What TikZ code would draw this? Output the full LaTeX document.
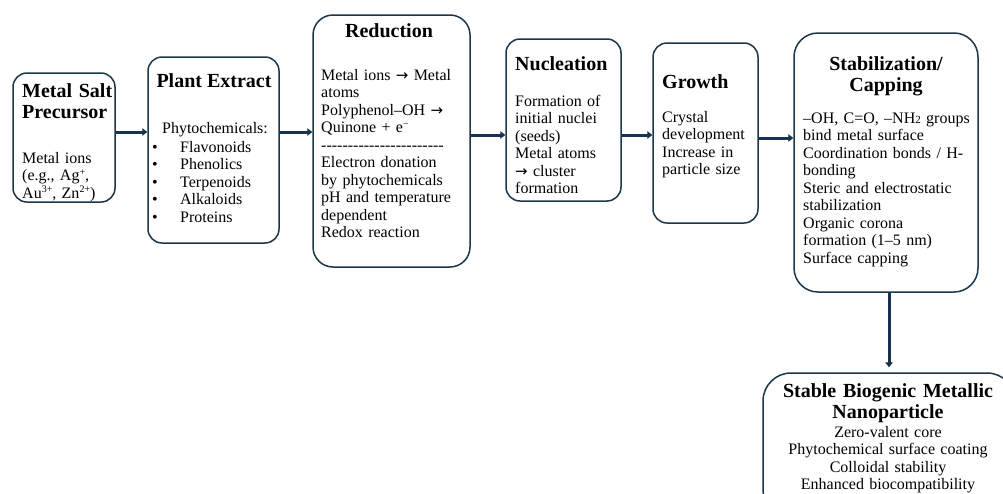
\documentclass[tikz,border=0pt]{standalone}
\usepackage{fontspec}
\setmainfont{Liberation Serif}
\newfontfamily\dejavu{DejaVu Sans}
\usetikzlibrary{arrows.meta}
\definecolor{boxc}{RGB}{28,54,74}
\definecolor{arrc}{RGB}{22,50,78}
\newcommand\dashrow{\foreach \i in {1,...,23}{-\kern0pt}}
\newcommand\sups[1]{\raisebox{0.32em}{\fontsize{10}{10}\selectfont #1}}
\newcommand\subs[1]{\raisebox{-0.05em}{\fontsize{11}{11}\selectfont #1}}
\newcommand\ra{{\dejavu\fontsize{15}{17.5}\selectfont →}}
\begin{document}
\begin{tikzpicture}[x=1pt,y=-1pt,
  box/.style={draw=boxc, line width=1.5pt, rounded corners=#1, inner sep=0pt, minimum width=1pt, minimum height=1pt},
  box/.default=14pt,
  ttl/.style={font=\fontsize{20}{21}\selectfont\bfseries, inner sep=0pt},
  bdy/.style={font=\fontsize{16}{17.5}\selectfont, inner sep=0pt},
  lft/.style={anchor=base west, text width=190pt, align=left},
  ctr/.style={anchor=base, text width=250pt, align=center},
  arr/.style={draw=arrc, line width=3pt, -{Triangle[length=5pt,width=7.5pt]}}
]
\fill[white] (0,0) rectangle (1003,493);
\useasboundingbox (0,0) rectangle (1003,493);
\clip (0,0) rectangle (1003,493);

% boxes
\node[box, minimum width=102pt, minimum height=129pt] (b1) at (64,137.5) {};
\node[box, minimum width=131pt, minimum height=186pt] (b2) at (213.5,150) {};
\node[box=20pt, minimum width=157pt, minimum height=252pt] (b3) at (391.5,141) {};
\node[box, minimum width=115pt, minimum height=162pt] (b4) at (563.5,120) {};
\node[box, minimum width=105pt, minimum height=180pt] (b5) at (705.5,133) {};
\node[box=24pt, minimum width=184pt, minimum height=259pt] (b6) at (886,162.5) {};
\node[box=28pt, minimum width=252pt, minimum height=144pt] (b7) at (889,445) {};

% texts box 1
\node[ttl, lft] (t1) at (22,97) {Metal Salt\\Precursor};
\node[bdy, lft] (x1) at (22,163) {Metal ions\\(e.g., Ag\sups{+},\\Au\sups{3+}, Zn\sups{2+})};

% box 2
\node[ttl, anchor=base] (t2) at (214,87) {Plant Extract};
\node[bdy, anchor=base] (x2) at (215,133) {Phytochemicals:};
\node[bdy, lft] (l2) at (152,152) {\makebox[28pt][l]{•}Flavonoids\\\makebox[28pt][l]{•}Phenolics\\\makebox[28pt][l]{•}Terpenoids\\\makebox[28pt][l]{•}Alkaloids\\\makebox[28pt][l]{•}Proteins};

% box 3
\node[ttl, anchor=base] (t3) at (389,37) {Reduction};
\node[bdy, lft] (x3) at (321,80) {Metal ions \ra{} Metal\\atoms\\Polyphenol–OH \ra\\Quinone + e\sups{−}\\\dashrow\\Electron donation\\by phytochemicals\\pH and temperature\\dependent\\Redox reaction};

% box 4
\node[ttl, lft] (t4) at (515,70) {Nucleation};
\node[bdy, lft] (x4) at (515,106) {Formation of\\initial nuclei\\(seeds)\\Metal atoms\\\ra{} cluster\\formation};

% box 5
\node[ttl, lft] (t5) at (662,88) {Growth};
\node[bdy, lft] (x5) at (662,122) {Crystal\\development\\Increase in\\particle size};

% box 6
\node[ttl, ctr] (t6) at (886,70) {Stabilization/\\Capping};
\node[bdy, lft] (x6) at (803,123) {–OH, C=O, –NH\subs{2} groups\\bind metal surface\\Coordination bonds~/~H-\\bonding\\Steric and electrostatic\\stabilization\\Organic corona\\formation (1–5 nm)\\Surface capping};

% box 7
\node[ttl, ctr] (t7) at (888,397) {Stable Biogenic Metallic\\Nanoparticle};
\node[bdy, ctr] (x7) at (888,437) {Zero-valent core\\Phytochemical surface coating\\Colloidal stability\\Enhanced biocompatibility};

% arrows
\draw[arr] (b1.east |- 0,132) -- (b2.west |- 0,132);
\draw[arr] (b2.east |- 0,132) -- (b3.west |- 0,132);
\draw[arr] (b3.east |- 0,135) -- (b4.west |- 0,135);
\draw[arr] (b4.east |- 0,135) -- (b5.west |- 0,135);
\draw[arr] (b5.east |- 0,138) -- (b6.west |- 0,138);
\draw[arr, shorten >=5pt] (b6.south -| 889,0) -- (b7.north -| 889,0);
\end{tikzpicture}
\end{document}
